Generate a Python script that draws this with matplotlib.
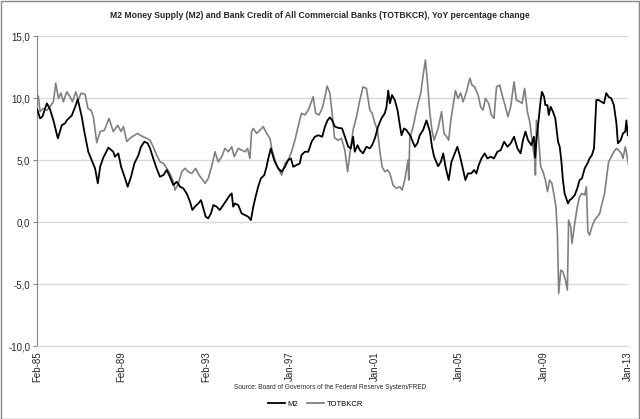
import matplotlib
matplotlib.use("Agg")
import matplotlib.pyplot as plt
from matplotlib.lines import Line2D
from matplotlib.patches import Rectangle

plt.rcParams["font.family"] = ["Liberation Sans", "DejaVu Sans"]

# YoY % change (decimal years)
m2_dates = [
    1985.08, 1985.22, 1985.33, 1985.54, 1985.69, 1985.85, 1986.06, 1986.25, 1986.40, 1986.48,
    1986.72, 1986.88, 1987.00, 1987.19, 1987.31, 1987.50, 1987.69, 1987.82, 1987.95, 1988.06,
    1988.21, 1988.45, 1988.68, 1988.76, 1988.92, 1989.05, 1989.24, 1989.36, 1989.52, 1989.68,
    1989.87, 1989.99, 1990.15, 1990.31, 1990.42, 1990.57, 1990.73, 1990.89, 1991.05, 1991.21,
    1991.36, 1991.52, 1991.68, 1991.84, 1991.99, 1992.15, 1992.31, 1992.42, 1992.54, 1992.70,
    1992.83, 1992.94, 1993.05, 1993.17, 1993.30, 1993.41, 1993.57, 1993.72, 1993.88, 1994.04,
    1994.20, 1994.28, 1994.35, 1994.43, 1994.59, 1994.75, 1994.91, 1995.06, 1995.19, 1995.30,
    1995.41, 1995.53, 1995.66, 1995.82, 1995.93, 1996.01, 1996.13, 1996.24, 1996.32, 1996.48,
    1996.64, 1996.80, 1996.95, 1997.08, 1997.19, 1997.35, 1997.50, 1997.58, 1997.74, 1997.90,
    1998.06, 1998.21, 1998.37, 1998.56, 1998.69, 1998.81, 1998.92, 1999.03, 1999.16, 1999.31,
    1999.50, 1999.63, 1999.79, 1999.91, 2000.02, 2000.10, 2000.23, 2000.34, 2000.49, 2000.65,
    2000.81, 2000.92, 2001.05, 2001.20, 2001.36, 2001.52, 2001.60, 2001.68, 2001.76, 2001.86,
    2001.99, 2002.12, 2002.23, 2002.31, 2002.43, 2002.54, 2002.65, 2002.75, 2002.81, 2002.94,
    2003.06, 2003.17, 2003.33, 2003.49, 2003.65, 2003.75, 2003.85, 2004.04, 2004.17, 2004.28,
    2004.39, 2004.54, 2004.67, 2004.83, 2004.95, 2005.06, 2005.17, 2005.33, 2005.45, 2005.61,
    2005.74, 2005.85, 2005.96, 2006.09, 2006.24, 2006.37, 2006.53, 2006.68, 2006.84, 2007.00,
    2007.16, 2007.32, 2007.47, 2007.63, 2007.79, 2007.94, 2008.05, 2008.17, 2008.29, 2008.45,
    2008.57, 2008.63, 2008.69, 2008.79, 2008.89, 2008.95, 2009.05, 2009.11, 2009.21, 2009.27,
    2009.36, 2009.47, 2009.58, 2009.71, 2009.79, 2009.87, 2009.94, 2010.02, 2010.10, 2010.18,
    2010.26, 2010.37, 2010.50, 2010.62, 2010.73, 2010.84, 2010.97, 2011.10, 2011.20, 2011.31,
    2011.41, 2011.52, 2011.63, 2011.76, 2011.88, 2011.99, 2012.10, 2012.23, 2012.35, 2012.47,
    2012.54, 2012.67, 2012.78, 2012.89, 2012.94, 2013.01,
]
m2_yoy = [
    9.1, 8.36, 8.5, 9.57, 9.09, 8.2, 6.75, 7.82, 7.96, 8.2,
    8.6, 9.3, 9.9, 8.5, 7.3, 5.67, 4.86, 4.33, 3.12, 4.46,
    5.2, 6.0, 5.67, 5.27, 5.54, 4.46, 3.52, 2.85, 3.65, 4.73,
    5.4, 6.07, 6.48, 6.35, 5.94, 5.13, 4.33, 3.65, 3.79, 4.2,
    3.65, 2.98, 3.25, 2.85, 2.72, 2.31, 1.64, 0.97, 1.24, 1.5,
    1.77, 1.1, 0.43, 0.3, 0.7, 1.37, 1.24, 0.97, 1.37, 1.77,
    2.18, 2.31, 1.24, 1.5, 1.37, 0.7, 0.56, 0.43, 0.16, 1.24,
    2.04, 2.85, 3.52, 3.79, 4.46, 5.13, 5.94, 5.27, 4.86, 4.33,
    4.06, 4.46, 5.0, 5.13, 4.46, 4.6, 4.73, 5.4, 5.67, 5.67,
    6.48, 6.88, 7.0, 6.88, 7.7, 8.2, 8.44, 8.2, 7.7, 7.6,
    7.55, 6.88, 6.07, 5.94, 6.88, 5.67, 6.2, 5.8, 5.54, 6.07,
    5.94, 6.2, 6.75, 7.7, 8.36, 8.77, 9.3, 10.6, 9.57, 10.24,
    9.84, 9.03, 7.82, 7.0, 7.55, 7.42, 7.15, 6.88, 6.6, 6.07,
    6.35, 7.0, 7.42, 8.2, 7.3, 6.07, 5.27, 4.5, 4.86, 5.54,
    4.46, 3.39, 4.86, 5.54, 6.07, 5.4, 4.6, 3.39, 3.92, 3.92,
    4.2, 3.92, 4.6, 5.13, 5.54, 5.13, 5.27, 5.13, 5.67, 5.8,
    6.48, 6.07, 6.35, 6.88, 5.94, 5.54, 6.6, 7.3, 6.6, 6.2,
    6.88, 5.2, 6.6, 8.2, 9.84, 10.5, 10.1, 9.43, 9.43, 8.63,
    9.3, 8.9, 8.36, 6.48, 6.07, 4.86, 3.39, 2.31, 1.91, 1.5,
    1.77, 1.91, 2.18, 2.72, 3.39, 3.52, 4.33, 4.73, 5.13, 5.4,
    5.94, 9.84, 9.84, 9.7, 9.57, 10.4, 10.1, 9.97, 9.43, 7.96,
    6.35, 6.6, 7.15, 7.3, 8.2, 7.0,
]

bank_dates = [
    1985.08, 1985.14, 1985.22, 1985.38, 1985.54, 1985.69, 1985.85, 1985.96, 1986.09, 1986.21,
    1986.32, 1986.48, 1986.64, 1986.75, 1986.91, 1987.03, 1987.16, 1987.35, 1987.48, 1987.63,
    1987.74, 1987.90, 1988.06, 1988.26, 1988.48, 1988.68, 1988.89, 1989.05, 1989.16, 1989.32,
    1989.47, 1989.68, 1989.84, 1989.95, 1990.10, 1990.26, 1990.42, 1990.57, 1990.73, 1990.89,
    1991.05, 1991.21, 1991.36, 1991.52, 1991.60, 1991.76, 1991.92, 1992.07, 1992.23, 1992.39,
    1992.58, 1992.73, 1992.86, 1993.02, 1993.17, 1993.33, 1993.49, 1993.64, 1993.81, 1993.96,
    1994.12, 1994.28, 1994.40, 1994.59, 1994.75, 1994.91, 1995.03, 1995.14, 1995.22, 1995.30,
    1995.46, 1995.61, 1995.77, 1995.93, 1996.09, 1996.17, 1996.32, 1996.48, 1996.64, 1996.80,
    1996.95, 1997.11, 1997.27, 1997.42, 1997.58, 1997.74, 1997.90, 1998.02, 1998.13, 1998.25,
    1998.40, 1998.56, 1998.69, 1998.79, 1998.92, 1999.03, 1999.14, 1999.31, 1999.47, 1999.63,
    1999.76, 1999.87, 2000.02, 2000.18, 2000.34, 2000.49, 2000.65, 2000.81, 2000.92, 2001.05,
    2001.17, 2001.28, 2001.39, 2001.52, 2001.65, 2001.76, 2001.91, 2002.07, 2002.23, 2002.34,
    2002.46, 2002.54, 2002.62, 2002.65, 2002.70, 2002.86, 2002.97, 2003.09, 2003.22, 2003.33,
    2003.44, 2003.54, 2003.65, 2003.75, 2003.85, 2004.04, 2004.20, 2004.32, 2004.44, 2004.54,
    2004.64, 2004.75, 2004.86, 2004.98, 2005.11, 2005.22, 2005.38, 2005.54, 2005.64, 2005.77,
    2005.93, 2006.05, 2006.16, 2006.28, 2006.43, 2006.56, 2006.68, 2006.80, 2006.95, 2007.11,
    2007.22, 2007.34, 2007.47, 2007.63, 2007.74, 2007.90, 2008.01, 2008.13, 2008.26, 2008.37,
    2008.48, 2008.61, 2008.64, 2008.69, 2008.76, 2008.89, 2009.00, 2009.11, 2009.21, 2009.31,
    2009.42, 2009.52, 2009.61, 2009.68, 2009.74, 2009.84, 2009.94, 2010.06, 2010.15, 2010.21,
    2010.31, 2010.37, 2010.50, 2010.62, 2010.73, 2010.84, 2010.97, 2011.05, 2011.12, 2011.20,
    2011.31, 2011.44, 2011.57, 2011.68, 2011.79, 2011.91, 2011.99, 2012.10, 2012.23, 2012.35,
    2012.47, 2012.57, 2012.70, 2012.78, 2012.89, 2012.98, 2013.04,
]
bank_yoy = [
    10.3, 10.1, 8.9, 9.17, 9.0, 9.3, 9.7, 11.2, 9.97, 10.4,
    9.7, 10.5, 10.1, 9.7, 10.5, 9.84, 10.4, 10.3, 9.17, 9.0,
    8.5, 6.4, 7.3, 7.4, 8.36, 7.3, 7.8, 7.3, 7.7, 6.5,
    6.75, 7.0, 7.15, 7.0, 6.88, 6.75, 6.6, 6.07, 5.4, 4.86,
    4.73, 4.33, 3.92, 3.25, 2.58, 3.12, 4.06, 4.33, 4.06, 3.92,
    4.33, 3.79, 3.52, 3.12, 3.52, 4.46, 5.67, 4.86, 5.27, 5.94,
    5.67, 6.07, 5.27, 5.94, 5.8, 5.67, 5.94, 5.13, 7.3, 7.55,
    7.15, 7.4, 7.7, 7.15, 6.75, 5.94, 5.0, 4.33, 3.79, 4.73,
    5.0, 5.67, 6.6, 7.7, 8.77, 8.63, 9.03, 9.57, 10.1, 8.77,
    8.63, 9.17, 10.1, 10.97, 10.4, 8.77, 6.8, 6.6, 6.75, 5.8,
    4.06, 5.54, 7.42, 8.5, 9.84, 10.9, 10.78, 9.03, 8.77, 7.96,
    7.42, 5.8, 4.46, 4.06, 4.2, 3.92, 2.98, 2.72, 2.85, 2.58,
    3.39, 4.2, 5.0, 3.39, 6.75, 7.7, 8.63, 9.57, 10.4, 11.85,
    13.06, 11.2, 8.77, 7.42, 6.6, 7.55, 8.9, 7.15, 6.88, 6.6,
    8.2, 9.43, 10.6, 9.97, 10.4, 9.7, 10.5, 11.6, 11.05, 10.9,
    10.24, 9.3, 9.03, 9.97, 9.57, 8.63, 8.36, 10.9, 11.05, 9.97,
    9.3, 8.5, 9.3, 11.3, 9.84, 9.7, 9.57, 10.78, 8.9, 8.09,
    6.6, 5.0, 3.8, 8.2, 7.42, 4.46, 4.06, 3.39, 2.45, 3.39,
    3.12, 2.18, 1.24, -0.91, -5.75, -3.87, -4.0, -4.68, -5.48, 0.16,
    -0.38, -1.72, -0.1, 1.24, 2.04, 2.31, 2.18, 2.85, -0.78, -1.05,
    -0.38, 0.16, 0.43, 0.7, 1.5, 2.31, 3.39, 4.86, 5.27, 5.67,
    5.94, 5.8, 5.54, 5.13, 6.07, 5.27, 4.6,
]

# category labels every 208 weeks, as on the original axis
tick_dates = [1985.08, 1989.07, 1993.06, 1997.05, 2001.04, 2005.03, 2009.02, 2013.01]
tick_labels = ["Feb-85", "Feb-89", "Feb-93", "Jan-97", "Jan-01", "Jan-05", "Jan-09", "Jan-13"]
y_ticks = [-10, -5, 0, 5, 10, 15]

M2_COL, BANK_COL = "#000000", "#808080"
GRID, AXIS, TXT = "#d9d9d9", "#868686", "#262626"

fig = plt.figure(figsize=(6.4, 4.19), dpi=100)
ax = fig.add_axes([0.058, 0.174, 0.923, 0.740])

ax.plot(bank_dates, bank_yoy, color=BANK_COL, lw=1.2, label="TOTBKCR", zorder=3)
ax.plot(m2_dates, m2_yoy, color=M2_COL, lw=1.3, label="M2", zorder=4)

ax.set_xlim(tick_dates[0], tick_dates[-1])
ax.set_ylim(-10, 15)
ax.set_yticks(y_ticks)
ax.set_yticklabels([f"{v:.1f}".replace(".", ",") for v in y_ticks])
ax.set_xticks(tick_dates)
ax.set_xticklabels(tick_labels, rotation=90, va="top", ha="center")

ax.grid(axis="y", color=GRID, lw=1.0)
ax.set_axisbelow(True)
for s in ("top", "right"):
    ax.spines[s].set_visible(False)
ax.spines["left"].set_color(AXIS)
ax.spines["bottom"].set_color(GRID)
ax.tick_params(axis="y", length=3, color=AXIS, labelsize=7, labelcolor=TXT, pad=2)
ax.tick_params(axis="x", length=0, labelsize=7, labelcolor=TXT, pad=4)

fig.text(0.5, 0.962, "M2 Money Supply (M2) and Bank Credit of All Commercial Banks (TOTBKCR), "
         "YoY percentage change", ha="center", va="center", fontsize=6.2,
         fontweight="bold", color=TXT)
fig.text(0.516, 0.074, "Source: Board of Governors of the Federal Reserve System/FRED",
         ha="center", va="center", fontsize=4.7, color=TXT)

handles = [Line2D([], [], color=M2_COL, lw=1.3), Line2D([], [], color=BANK_COL, lw=1.3)]
fig.legend(handles, ["M2", "TOTBKCR"], loc="center", bbox_to_anchor=(0.493, 0.036),
           ncol=2, frameon=False, fontsize=5.5, handlelength=2.2, handletextpad=0.3,
           columnspacing=1.2)

fig.patches.append(Rectangle((0.001, 0.001), 0.997, 0.997, transform=fig.transFigure,
                             fill=False, edgecolor=AXIS, lw=1.0))

fig.savefig("out.png", dpi=100)
